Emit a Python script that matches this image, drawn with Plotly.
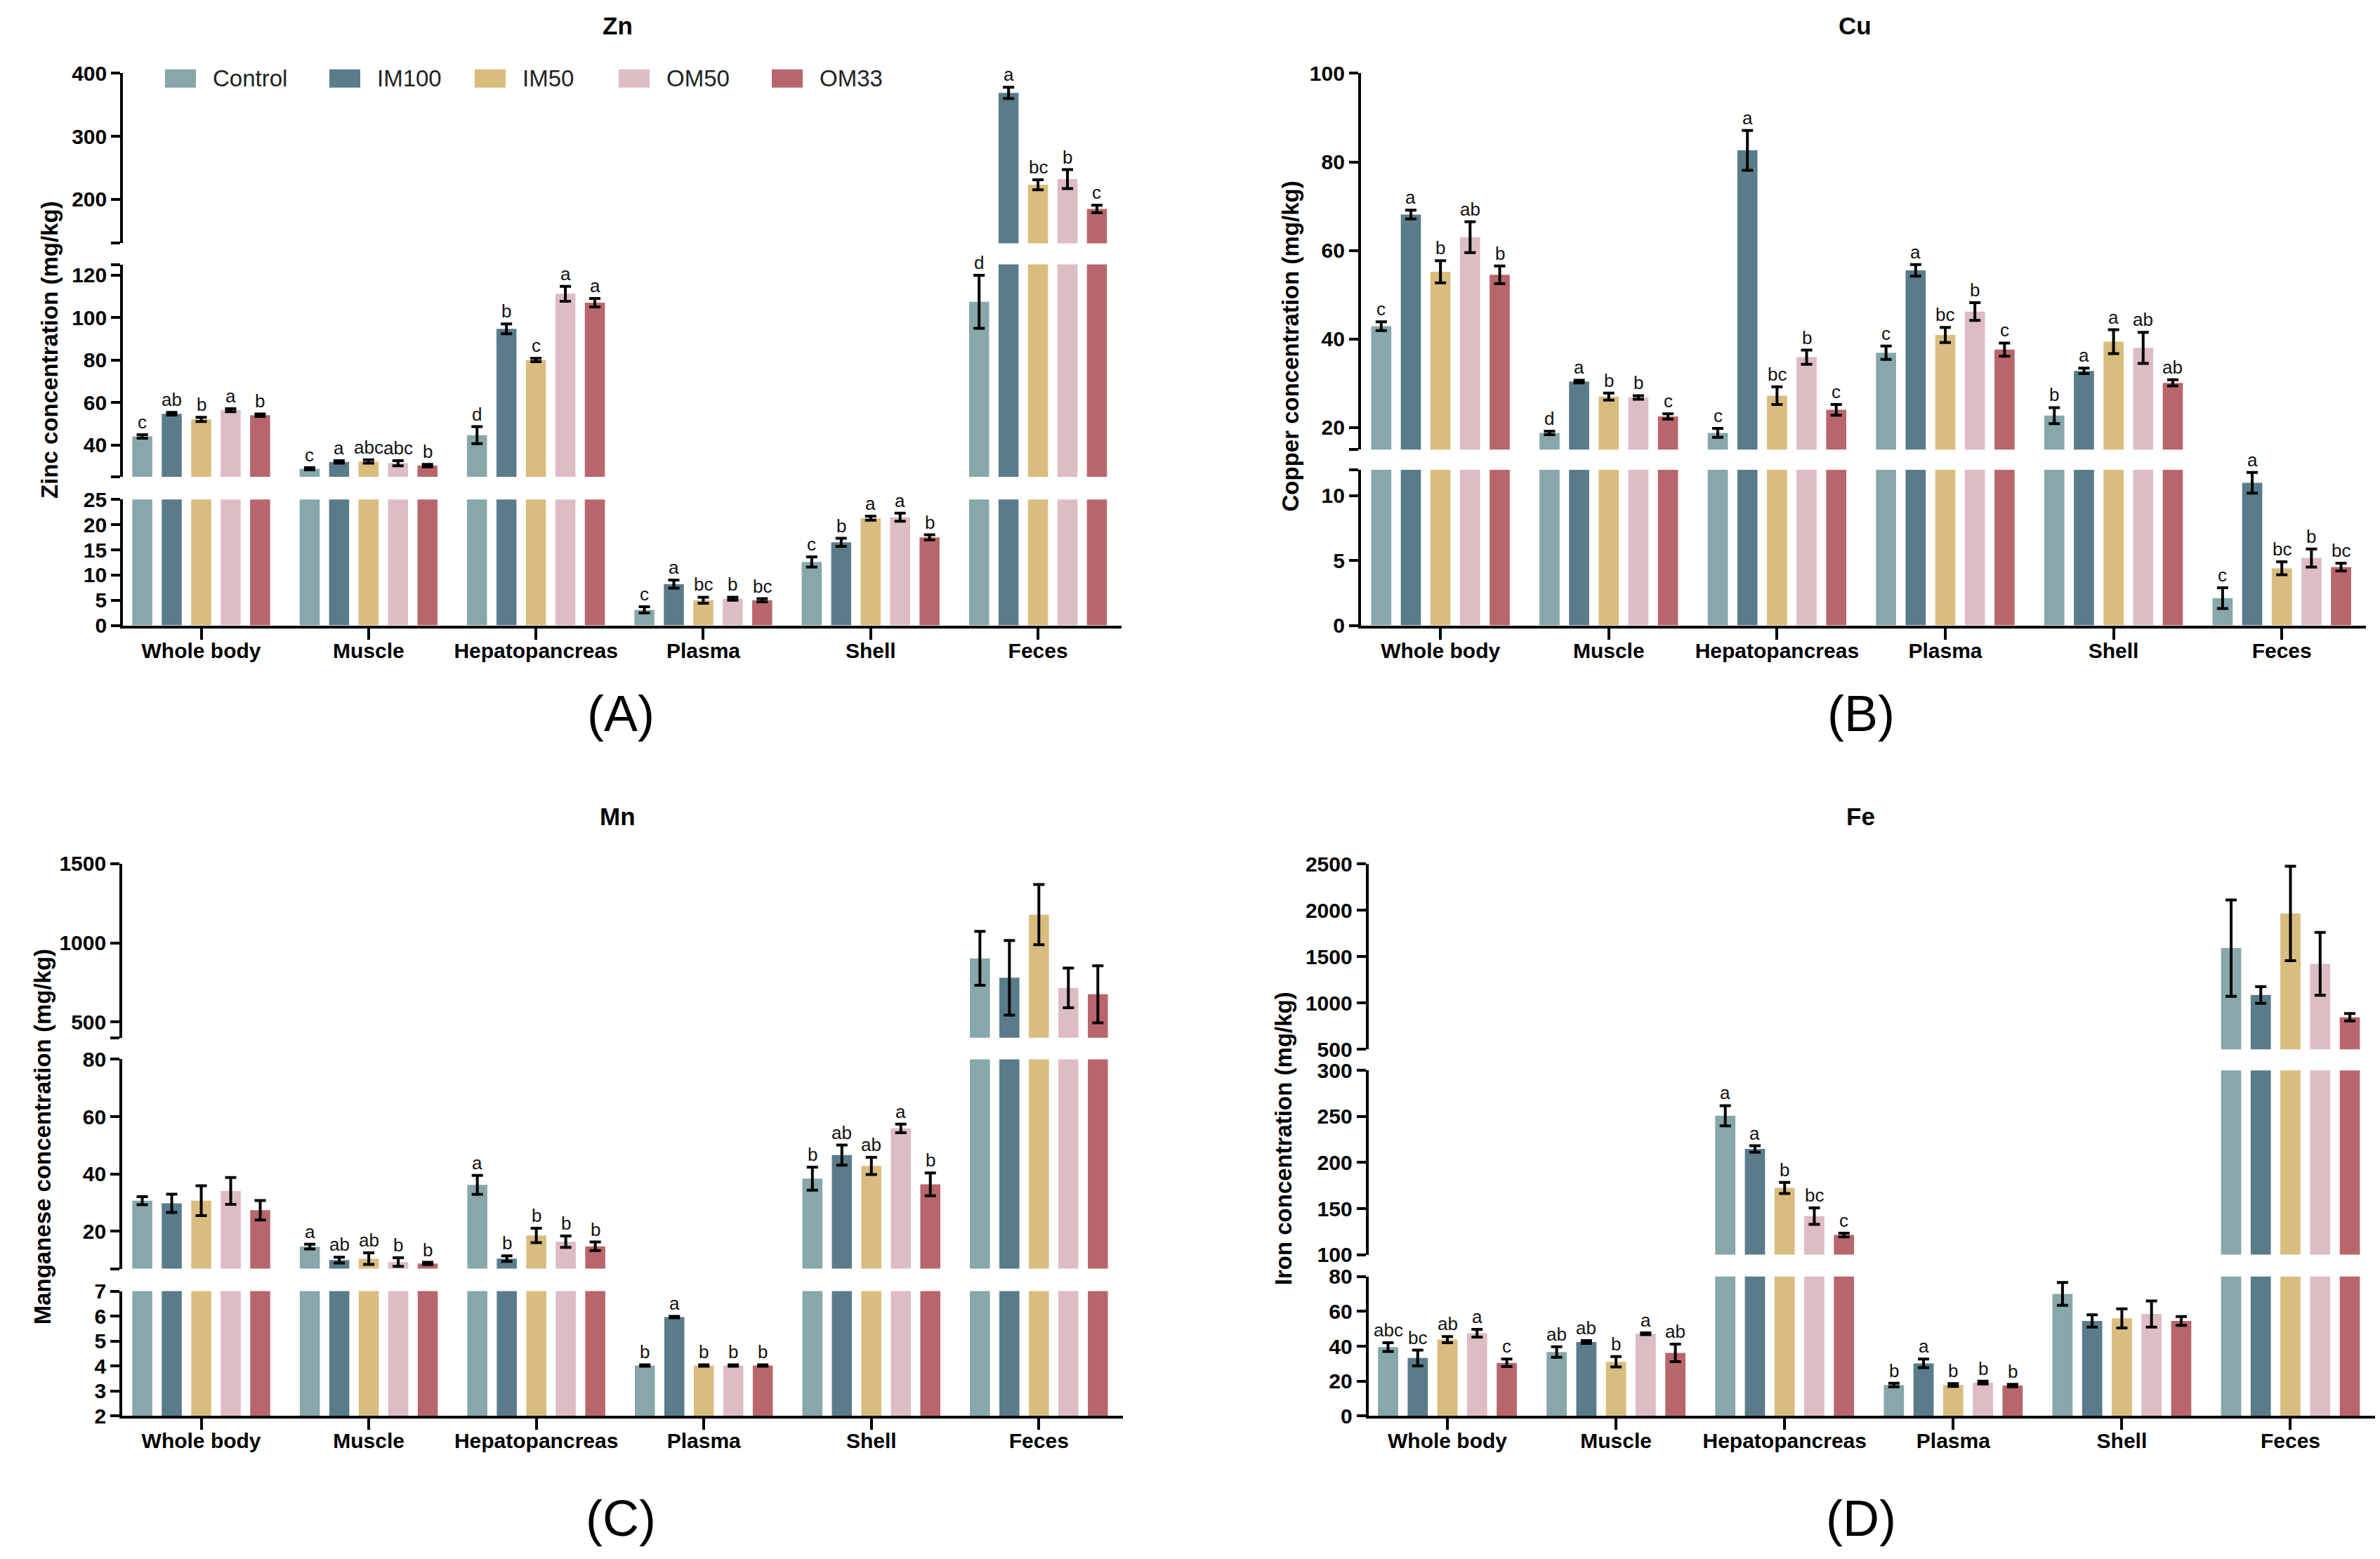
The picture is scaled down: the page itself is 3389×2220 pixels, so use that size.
import plotly.graph_objects as go

groups = ["Control", "IM100", "IM50", "OM50", "OM33"]
tissues = ["Whole body", "Muscle", "Hepatopancreas", "Plasma", "Shell", "Feces"]
colors = ["#87a7aa", "#5a7c8a", "#d9bd7e", "#ddbcc4", "#b8666c"]

# rows follow tissues, columns follow groups
zn_mean = [[44.0, 54.7, 52.0, 56.4, 54.0],
           [28.8, 32.0, 32.2, 31.4, 30.3],
           [44.6, 94.7, 80.0, 111.2, 107.0],
           [3.1, 8.2, 5.0, 5.3, 5.0],
           [12.6, 16.5, 21.3, 21.5, 17.5],
           [107.4, 369.0, 223.0, 232.0, 184.5]]
zn_err = [[0.8, 0.6, 1.0, 0.7, 0.6],
          [0.5, 0.6, 0.8, 1.2, 0.6],
          [4.0, 2.3, 0.8, 3.5, 2.0],
          [0.6, 0.8, 0.6, 0.3, 0.3],
          [1.0, 0.8, 0.4, 0.8, 0.5],
          [12.5, 9.0, 8.0, 15.0, 6.0]]
zn_sig = [["c", "ab", "b", "a", "b"],
          ["c", "a", "abc", "abc", "b"],
          ["d", "b", "c", "a", "a"],
          ["c", "a", "bc", "b", "bc"],
          ["c", "b", "a", "a", "b"],
          ["d", "a", "bc", "b", "c"]]

cu_mean = [[42.9, 68.1, 55.2, 63.0, 54.5],
           [18.8, 30.4, 27.0, 26.8, 22.5],
           [18.8, 82.6, 27.2, 35.9, 24.0],
           [36.9, 55.5, 40.9, 46.2, 37.6],
           [22.7, 32.8, 39.4, 38.0, 30.1],
           [2.1, 11.0, 4.4, 5.2, 4.5]]
cu_err = [[1.0, 1.0, 2.5, 3.5, 2.0],
          [0.4, 0.3, 0.8, 0.4, 0.6],
          [1.0, 4.5, 2.0, 1.6, 1.2],
          [1.5, 1.3, 1.7, 2.0, 1.5],
          [1.8, 0.6, 2.7, 3.5, 0.7],
          [0.8, 0.8, 0.5, 0.7, 0.3]]
cu_sig = [["c", "a", "b", "ab", "b"],
          ["d", "a", "b", "b", "c"],
          ["c", "a", "bc", "b", "c"],
          ["c", "a", "bc", "b", "c"],
          ["b", "a", "a", "ab", "ab"],
          ["c", "a", "bc", "b", "bc"]]

mn_mean = [[30.7, 29.8, 30.7, 34.1, 27.4],
           [14.7, 10.0, 10.5, 9.3, 8.8],
           [36.2, 10.5, 18.6, 16.4, 14.8],
           [4.02, 5.96, 4.02, 4.02, 4.02],
           [38.4, 46.6, 42.8, 55.9, 36.4],
           [902.0, 779.0, 1178.0, 715.0, 675.0]]
mn_err = [[1.4, 3.2, 5.2, 4.7, 3.4],
          [0.8, 1.0, 2.0, 1.5, 0.4],
          [3.3, 1.0, 2.5, 2.0, 1.5],
          [0.03, 0.03, 0.03, 0.03, 0.03],
          [4.0, 3.5, 3.0, 1.5, 4.0],
          [170.0, 236.0, 190.0, 125.0, 180.0]]
mn_sig = [["", "", "", "", ""],
          ["a", "ab", "ab", "b", "b"],
          ["a", "b", "b", "b", "b"],
          ["b", "a", "b", "b", "b"],
          ["b", "ab", "ab", "a", "b"],
          ["", "", "", "", ""]]

fe_mean = [[39.5, 33.3, 43.8, 47.5, 30.5],
           [36.7, 42.4, 31.1, 47.2, 36.2],
           [250.7, 214.7, 172.4, 141.8, 121.4],
           [17.8, 30.2, 17.8, 19.2, 17.5],
           [70.0, 54.5, 56.0, 58.5, 54.5],
           [1593.0, 1087.0, 1967.0, 1423.0, 847.0]]
fe_err = [[2.5, 4.5, 1.8, 2.2, 2.2],
          [3.0, 0.8, 3.0, 0.5, 5.0],
          [11.0, 3.5, 6.0, 9.0, 2.0],
          [1.0, 2.5, 0.8, 0.8, 0.7],
          [6.5, 3.5, 5.5, 7.5, 2.5],
          [520.0, 90.0, 510.0, 340.0, 40.0]]
fe_sig = [["abc", "bc", "ab", "a", "c"],
          ["ab", "ab", "b", "a", "ab"],
          ["a", "a", "b", "bc", "c"],
          ["b", "a", "b", "b", "b"],
          ["", "", "", "", ""],
          ["", "", "", "", ""]]

# broken y axes: value range of each piece, bottom to top, and its labelled ticks
zn_ranges = [[0, 25], [25, 125], [130, 400]]
zn_ticks = [[0, 5, 10, 15, 20, 25], [40, 60, 80, 100, 120], [200, 300, 400]]
cu_ranges = [[0, 12], [15, 100]]
cu_ticks = [[0, 5, 10], [20, 40, 60, 80, 100]]
mn_ranges = [[2, 7], [7, 80], [400, 1500]]
mn_ticks = [[2, 3, 4, 5, 6, 7], [20, 40, 60, 80], [500, 1000, 1500]]
fe_ranges = [[0, 80], [100, 300], [500, 2500]]
fe_ticks = [[0, 20, 40, 60, 80], [100, 150, 200, 250, 300], [500, 1000, 1500, 2000, 2500]]

W, H = 3389, 2220
FONT = "Arial, Liberation Sans, sans-serif"
BARGAP = 0.12

# the photographed page comes out slightly squeezed vertically (checked with
# marker lines at the paper edges), so paper y values are pre-stretched
SHOT_TOP, SHOT_SCALE = 16.2, 0.9854


def fy(f):
    return 1 - ((1 - f) * H - SHOT_TOP) / SHOT_SCALE / H


panels = [
    dict(title="Zn", tag="(A)", ytitle="Zinc concentration (mg/kg)",
         mean=zn_mean, err=zn_err, sig=zn_sig, ranges=zn_ranges, ticks=zn_ticks,
         xdom=[0.0517, 0.4713], xstart=-0.467,
         ydom=[[0.5989, 0.6797], [0.6943, 0.8306], [0.8442, 0.9533]],
         title_xy=(0.2596, 0.984), tag_xy=(0.2608, 0.5424), ytitle_xy=(0.021, 0.776)),
    dict(title="Cu", tag="(B)", ytitle="Copper concentration (mg/kg)",
         mean=cu_mean, err=cu_err, sig=cu_sig, ranges=cu_ranges, ticks=cu_ticks,
         xdom=[0.5718, 0.9941], xstart=-0.473,
         ydom=[[0.5989, 0.6988], [0.7117, 0.9533]],
         title_xy=(0.7793, 0.984), tag_xy=(0.7819, 0.5424), ytitle_xy=(0.5421, 0.778)),
    dict(title="Mn", tag="(C)", ytitle="Manganese concentration (mg/kg)",
         mean=mn_mean, err=mn_err, sig=mn_sig, ranges=mn_ranges, ticks=mn_ticks,
         xdom=[0.0514, 0.4717], xstart=-0.471,
         ydom=[[0.0914, 0.1716], [0.1860, 0.3204], [0.3342, 0.4460]],
         title_xy=(0.2596, 0.4762), tag_xy=(0.2608, 0.0257), ytitle_xy=(0.0179, 0.2707)),
    dict(title="Fe", tag="(D)", ytitle="Iron concentration (mg/kg)",
         mean=fe_mean, err=fe_err, sig=fe_sig, ranges=fe_ranges, ticks=fe_ticks,
         xdom=[0.5750, 0.9978], xstart=-0.468,
         ydom=[[0.0914, 0.1810], [0.1950, 0.3133], [0.3268, 0.4457]],
         title_xy=(0.7819, 0.4762), tag_xy=(0.7819, 0.0257), ytitle_xy=(0.5395, 0.2697)),
]


def segment_of(value, ranges):
    k = 0
    for i, (lo, hi) in enumerate(ranges):
        if value >= lo:
            k = i
    return k


def paper_text(x, y, text, size, bold=False, angle=0):
    return dict(x=x, y=fy(y), xref="paper", yref="paper", text=text, showarrow=False,
                xanchor="center", yanchor="middle", textangle=angle,
                font=dict(family=FONT, size=size, color="black",
                          weight="bold" if bold else "normal"))


fig = go.Figure()
annotations = []
yn = 0
for pi, p in enumerate(panels):
    xname = "x" if pi == 0 else f"x{pi + 1}"
    xkey = "xaxis" if pi == 0 else f"xaxis{pi + 1}"
    bottom = None
    for k, (lo, hi) in enumerate(p["ranges"]):
        yn += 1
        yname = "y" if yn == 1 else f"y{yn}"
        ykey = "yaxis" if yn == 1 else f"yaxis{yn}"
        if k == 0:
            bottom = yname
        for j, g in enumerate(groups):
            vals = [row[j] for row in p["mean"]]
            errs = [row[j] if segment_of(vals[t], p["ranges"]) == k else 0
                    for t, row in enumerate(p["err"])]
            fig.add_trace(go.Bar(
                x=tissues, y=vals, name=g, showlegend=False,
                marker=dict(color=colors[j], line=dict(width=0)),
                error_y=dict(type="data", array=errs, color="black", thickness=4, width=8),
                xaxis=xname, yaxis=yname,
            ))
            # significance letters above the error bars
            for t in range(len(tissues)):
                s = p["sig"][t][j]
                if s and segment_of(vals[t], p["ranges"]) == k:
                    annotations.append(dict(
                        x=t + (j - 2) * (1 - BARGAP) / 5, y=vals[t] + p["err"][t][j],
                        xref=xname, yref=yname, text=s, showarrow=False,
                        xanchor="center", yanchor="bottom", yshift=1,
                        font=dict(family=FONT, size=26, color="#111111"),
                    ))
        labelled = p["ticks"][k]
        tickvals = sorted(set(labelled) | {lo, hi})
        ticktext = [str(v) if v in labelled else "" for v in tickvals]
        d0, d1 = p["ydom"][k]
        fig.layout[ykey] = dict(
            domain=[fy(d0), fy(d1)], range=[lo, hi], anchor=xname,
            tickmode="array", tickvals=tickvals, ticktext=ticktext,
            showline=True, linecolor="black", linewidth=4,
            ticks="outside", ticklen=13, tickwidth=4, tickcolor="black",
            showgrid=False, zeroline=False,
            tickfont=dict(family=FONT, size=30, color="black", weight="bold"),
        )
    fig.layout[xkey] = dict(
        domain=p["xdom"], anchor=bottom, range=[p["xstart"], len(tissues) - 0.5],
        showline=True, linecolor="black", linewidth=4,
        ticks="outside", ticklen=16, tickwidth=4, tickcolor="black",
        ticklabelstandoff=-10,
        showgrid=False, zeroline=False,
        tickfont=dict(family=FONT, size=30, color="black", weight="bold"),
    )
    annotations.append(paper_text(*p["title_xy"], p["title"], 35, bold=True))
    annotations.append(paper_text(*p["tag_xy"], p["tag"], 72))
    annotations.append(paper_text(*p["ytitle_xy"], p["ytitle"], 33, bold=True, angle=-90))

# legend drawn by hand so the swatches keep the reference's size
legend_x = [235, 469, 676, 881, 1099]
shapes = []
for j, g in enumerate(groups):
    x0 = legend_x[j]
    shapes.append(dict(type="rect", xref="paper", yref="paper",
                       x0=x0 / W, x1=(x0 + 44) / W, y0=fy(1 - 124 / H), y1=fy(1 - 98 / H),
                       fillcolor=colors[j], line=dict(width=0)))
    annotations.append(dict(x=(x0 + 66) / W, y=fy(1 - 111 / H), xref="paper", yref="paper",
                            text=g, showarrow=False, xanchor="left", yanchor="middle",
                            font=dict(family=FONT, size=33, color="#222222")))

fig.update_layout(
    width=W, height=H, margin=dict(l=0, r=0, t=0, b=0),
    paper_bgcolor="white", plot_bgcolor="white",
    barmode="group", bargap=BARGAP, bargroupgap=0.32,
    showlegend=False, annotations=annotations, shapes=shapes,
)

# pin the chart to the page corner so nothing else pushes it down
pin = ("var d = document.getElementById('{plot_id}');"
       "d.style.position = 'absolute'; d.style.left = '0px'; d.style.top = '0px';"
       "document.body.style.margin = '0'; document.body.style.overflow = 'hidden';")
fig.write_html("out.html", config={"displayModeBar": False}, post_script=pin)
